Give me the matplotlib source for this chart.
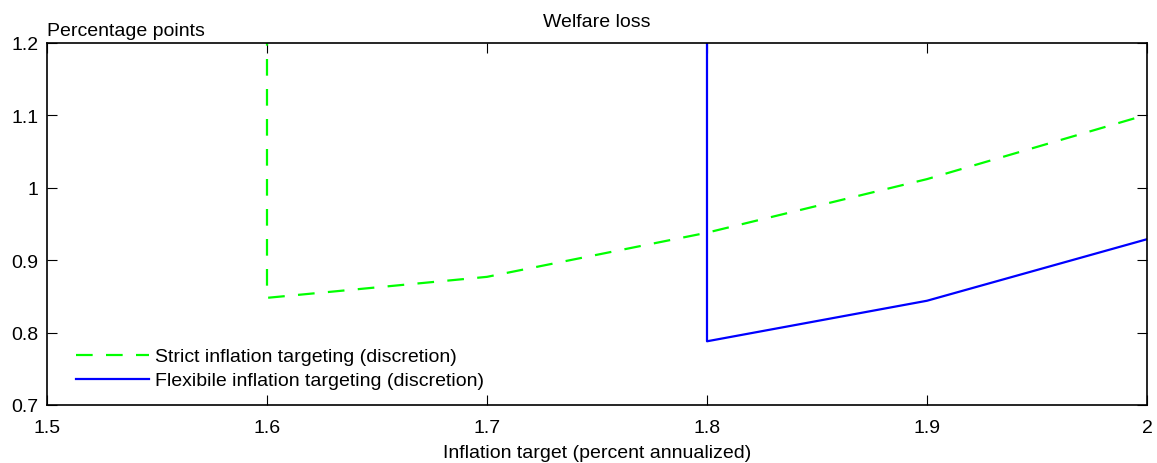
import matplotlib
matplotlib.use("Agg")
import matplotlib.pyplot as plt

# Inflation targets and welfare losses (percentage points)
targets = [1.5, 1.6, 1.7, 1.8, 1.9, 2.0]
# large values stand for the off-chart losses before the curves start
strict_loss = [1e4, 0.848, 0.877, 0.938, 1.012, 1.101]
flexible_loss = [1e4, 1e4, 1e4, 0.788, 0.844, 0.929]

xticks = [1.5, 1.6, 1.7, 1.8, 1.9, 2.0]
xticklabels = ["1.5", "1.6", "1.7", "1.8", "1.9", "2"]
yticks = [0.7, 0.8, 0.9, 1.0, 1.1, 1.2]
yticklabels = ["0.7", "0.8", "0.9", "1", "1.1", "1.2"]

plt.rcParams['font.family'] = ['Liberation Sans', 'DejaVu Sans']
plt.rcParams['font.size'] = 14

fig = plt.figure(figsize=(11.57, 4.64), dpi=100)
ax = fig.add_axes([47 / 1157, 1 - 406 / 464, 1100 / 1157, 362 / 464])

ax.plot(targets, strict_loss, color='#00ff00', lw=1.6, dashes=(7.5, 6),
        label='Strict inflation targeting (discretion)')
ax.plot(targets, flexible_loss, color='#0000ff', lw=1.6,
        label='Flexibile inflation targeting (discretion)')

ax.set_xlim(1.5, 2.0)
ax.set_ylim(0.7, 1.2)
ax.set_xticks(xticks)
ax.set_xticklabels(xticklabels)
ax.set_yticks(yticks)
ax.set_yticklabels(yticklabels)
ax.tick_params(direction='in', length=7, width=0.8, top=True, right=True,
               labelsize=14, colors='black')
ax.tick_params(axis='x', pad=10)
ax.tick_params(axis='y', pad=6)
for s in ax.spines.values():
    s.set_linewidth(1.2)

ax.set_title('Welfare loss', fontsize=14, pad=12)
ax.set_xlabel('Inflation target (percent annualized)', fontsize=14, labelpad=6)
ax.text(0.0, 1.012, 'Percentage points', transform=ax.transAxes,
        ha='left', va='bottom', fontsize=14)

ax.legend(loc='lower left', bbox_to_anchor=(0.01, -0.005), frameon=False,
          handlelength=3.8, handletextpad=0.3, labelspacing=0.32, fontsize=14)

fig.savefig('out.png', dpi=100)
